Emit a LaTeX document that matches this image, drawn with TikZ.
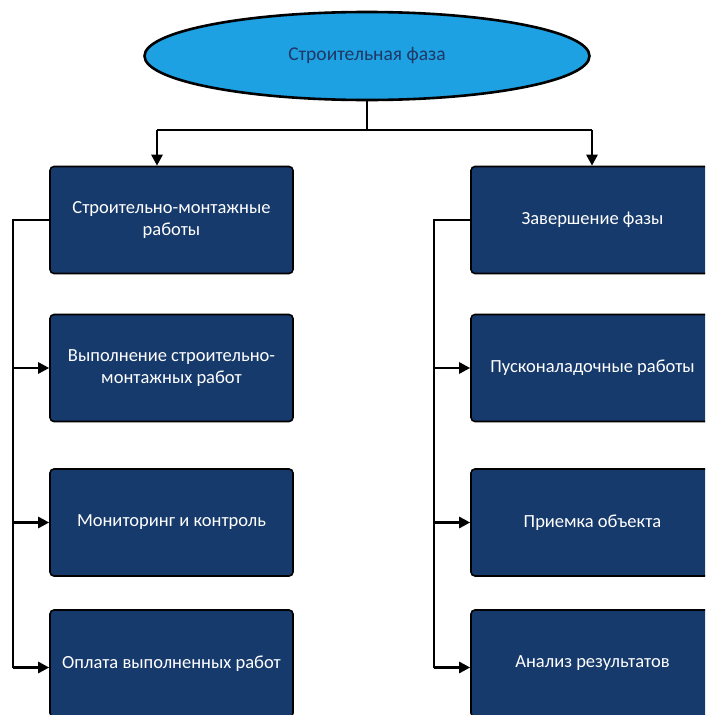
\documentclass[tikz,border=0pt]{standalone}
\usepackage{fontspec}
\setmainfont{Carlito}
\usetikzlibrary{arrows.meta,shapes.geometric}
\definecolor{boxnavy}{HTML}{173A6C}
\definecolor{phaseblue}{HTML}{1DA1E2}
\definecolor{phasetext}{HTML}{1F3864}
\begin{document}
\begin{tikzpicture}[x=1pt,y=-1pt,
  phase/.style={ellipse,draw=black,line width=2.6pt,fill=phaseblue,
    minimum width=445pt,minimum height=88pt,inner sep=0pt,
    text=phasetext,font=\fontsize{19.5}{23}\selectfont},
  stage/.style={rectangle,rounded corners=4pt,draw=black,line width=1.6pt,
    fill=boxnavy,minimum width=243pt,minimum height=107pt,inner sep=0pt,
    text=white,align=center,font=\fontsize{18.5}{21.5}\selectfont},
  link/.style={line width=2.6pt,draw=black},
  arrowlink/.style={link,-{Triangle[length=11pt,width=11pt]}}]
  \useasboundingbox (0,0) rectangle (705,715);
  \clip (0,0) rectangle (705,715);
  \fill[white] (0,0) rectangle (705,715);

  % root
  \node[phase] (top) at (367,56) {Строительная фаза};

  % left column
  \node[stage] (L1) at (171.5,220) {Строительно-монтажные\\работы};
  \node[stage] (L2) at (171.5,368) {Выполнение строительно-\\монтажных работ};
  \node[stage] (L3) at (171.5,522.5) {Мониторинг и контроль};
  \node[stage] (L4) at (171.5,663.5) {Оплата выполненных работ};

  % right column
  \node[stage] (R1) at (592.5,220) {Завершение фазы};
  \node[stage] (R2) at (592.5,368) {Пусконаладочные работы};
  \node[stage] (R3) at (592.5,522.5) {Приемка объекта};
  \node[stage] (R4) at (592.5,663.5) {Анализ результатов};

  % split from the root
  \coordinate (busL) at (157,130);
  \coordinate (busR) at (592,130);
  \draw[link] (top.south) -- (top.south |- busL);
  \draw[link] (busL) -- (busR);
  \draw[arrowlink] (busL) -- (busL |- L1.north);
  \draw[arrowlink] (busR) -- (busR |- R1.north);

  % left spine
  \coordinate (spL) at (13,220);
  \coordinate (L4in) at ([yshift=-4pt]L4.west);
  \draw[link] (L1.west) -- (spL) -- (spL |- L4in);
  \draw[arrowlink] (spL |- L2.west) -- (L2.west);
  \draw[arrowlink] (spL |- L3.west) -- (L3.west);
  \draw[arrowlink] (spL |- L4in) -- (L4in);

  % right spine
  \coordinate (spR) at (434,220);
  \coordinate (R4in) at ([yshift=-4pt]R4.west);
  \draw[link] (R1.west) -- (spR) -- (spR |- R4in);
  \draw[arrowlink] (spR |- R2.west) -- (R2.west);
  \draw[arrowlink] (spR |- R3.west) -- (R3.west);
  \draw[arrowlink] (spR |- R4in) -- (R4in);
\end{tikzpicture}
\end{document}
